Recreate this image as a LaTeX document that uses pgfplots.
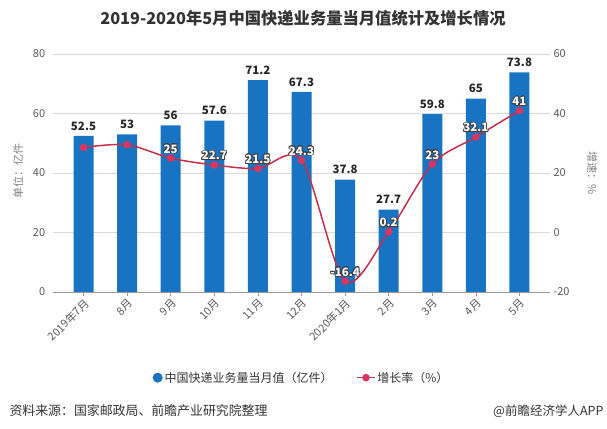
\documentclass[border=0pt]{standalone}
\usepackage{fontspec}
\setmainfont{Noto Sans CJK SC}
\usepackage{pgfplots}
\pgfplotsset{compat=1.18}
\usepackage{contour}
\contourlength{0.8pt}
\definecolor{barblue}{HTML}{1874C2}
\definecolor{linered}{HTML}{C42F4C}
\definecolor{markred}{HTML}{D63660}
\definecolor{txtgray}{HTML}{595959}
\definecolor{gridgray}{HTML}{D9D9D9}
\begin{document}
\begin{tikzpicture}[x=1pt,y=1pt]
\path[use as bounding box] (0,0) rectangle (607,428);
\node[font=\bfseries\fontsize{16.3}{18}\selectfont, text=black!80] at (303,410) {2019-2020年5月中国快递业务量当月值统计及增长情况};
\begin{axis}[
  at={(53pt,136pt)}, anchor=south west,
  width=497pt, height=238pt, scale only axis,
  xmin=-0.7, xmax=10.7, ymin=0, ymax=80,
  ytick={0,20,...,80}, xtick={0,...,10},
  xticklabels={2019年7月,8月,9月,10月,11月,12月,2020年1月,2月,3月,4月,5月},
  x tick label style={rotate=45, anchor=north east, font=\fontsize{11}{12}\selectfont, text=txtgray, inner sep=1pt},
  y tick label style={font=\fontsize{11}{12}\selectfont, text=txtgray},
  /pgf/number format/assume math mode=true,
  axis x line*=bottom, axis y line*=left,
  y axis line style={draw=none},
  x axis line style={draw=black!40, line width=0.8pt},
  ymajorgrids, grid style={gridgray, line width=0.6pt},
  tick align=outside,
  xtick style={draw=black!40, line width=0.6pt},
  major x tick style={/pgfplots/major tick length=4pt},
  ytick style={draw=none},
  ylabel={单位：亿件},
  ylabel style={at={(axis description cs:-0.07,0.51)}, anchor=center, font=\fontsize{11}{12}\selectfont, text=black!50},
  legend style={at={(axis description cs:0.5,-0.36)}, anchor=center, draw=none, legend columns=2, font=\fontsize{12}{13}\selectfont, text=black!80, /tikz/every even column/.append style={column sep=22pt}},
  clip=false,
]
\addplot[ybar, bar width=20pt, fill=barblue, draw=none,
  legend image code/.code={\fill[barblue] (0.25cm,0) circle (5pt);},
  nodes near coords, nodes near coords style={font=\bfseries\fontsize{11.5}{13}\selectfont, text=black!85, yshift=2pt},
  /pgf/number format/assume math mode=true]
coordinates {(0,52.5) (1,53) (2,56) (3,57.6) (4,71.2) (5,67.3) (6,37.8) (7,27.7) (8,59.8) (9,65) (10,73.8)};
\addlegendentry{中国快递业务量当月值（亿件）}
\addlegendimage{color=linered, line width=1.5pt, mark=*, mark options={fill=markred, draw=markred}, mark size=3pt}
\addlegendentry{增长率（\%）}
\end{axis}
\begin{axis}[
  at={(53pt,136pt)}, anchor=south west,
  width=497pt, height=238pt, scale only axis,
  xmin=-0.7, xmax=10.7, ymin=-20, ymax=60,
  ytick={-20,0,...,60},
  axis x line=none, axis y line*=right,
  y axis line style={draw=none}, ytick style={draw=none},
  y tick label style={font=\fontsize{11}{12}\selectfont, text=txtgray},
  /pgf/number format/assume math mode=true,
  ylabel={增速：\%},
  ylabel style={at={(axis description cs:1.085,0.50)}, anchor=center, rotate=180, font=\fontsize{11}{12}\selectfont, text=black!50},
  clip=false,
]
\addplot[smooth, color=linered, line width=1.5pt, mark=*, mark options={fill=markred, draw=markred}, mark size=3pt,
  point meta=explicit symbolic,
  nodes near coords={\contour{black!75}{\color{white}\pgfplotspointmeta}},
  nodes near coords style={font=\bfseries\fontsize{11.5}{13}\selectfont, anchor=south, yshift=0pt}]
coordinates {(0,28.6) [] (1,29.5) [] (2,25) [25] (3,22.7) [22.7] (4,21.5) [21.5] (5,24.3) [24.3] (6,-16.4) [-16.4] (7,0.2) [0.2] (8,23) [23] (9,32.1) [32.1] (10,41) [41]};
\end{axis}
\node[anchor=west, font=\fontsize{12.9}{15}\selectfont, text=black!80] at (6,17) {资料来源：国家邮政局、前瞻产业研究院整理};
\node[anchor=east, font=\fontsize{12.5}{14}\selectfont, text=black!80] at (607,17) {@前瞻经济学人APP};
\end{tikzpicture}
\end{document}
